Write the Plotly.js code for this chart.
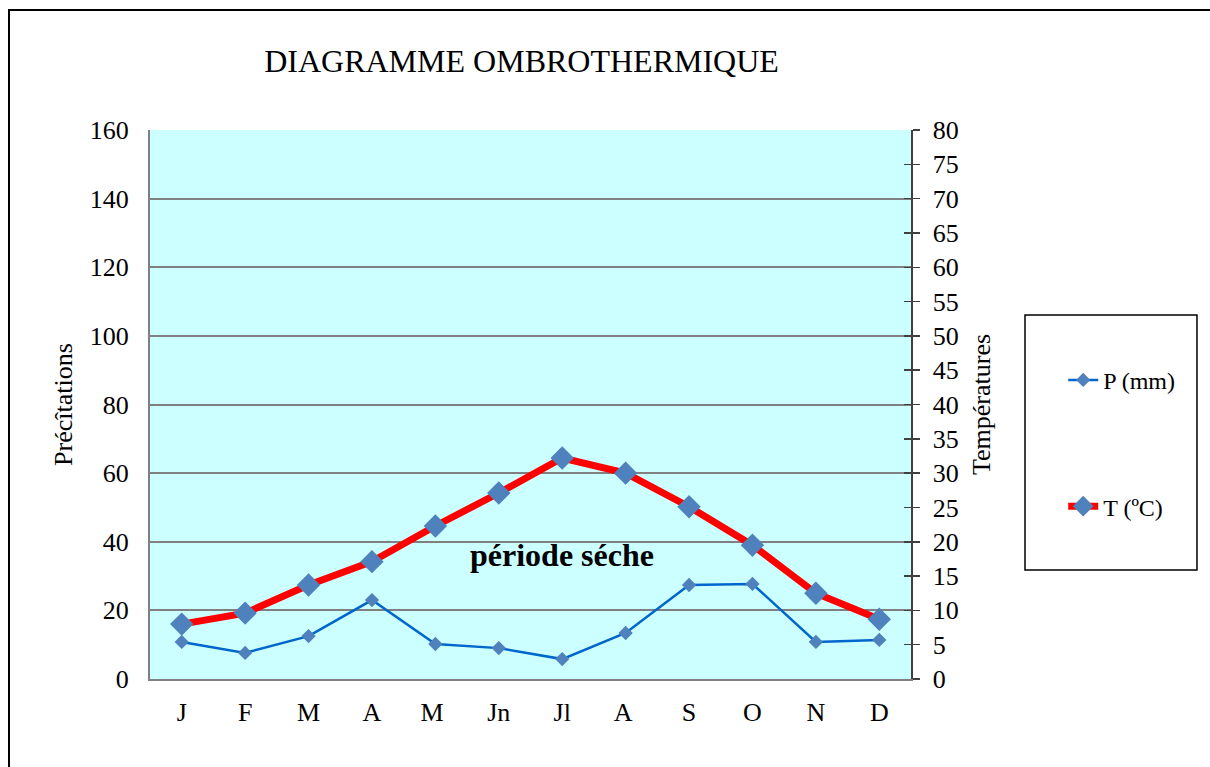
<!DOCTYPE html>
<html>
<head>
<meta charset="utf-8">
<script src="https://cdn.plot.ly/plotly-3.0.1.min.js"></script>
<style>
  html, body { margin: 0; padding: 0; background: #fff; overflow: hidden; }
  #chart { width: 1210px; height: 767px; }
  #frame { position: absolute; left: 8px; top: 9px; width: 1400px; height: 1000px;
           border: 2px solid #000; pointer-events: none; }
</style>
</head>
<body>
<div id="chart"></div>
<div id="frame"></div>
<script>
const months = ["J", "F", "M", "A", "M ", "Jn", "Jl", "A ", "S", "O", "N", "D"];
const precip = [10.8, 7.6, 12.5, 23.0, 10.2, 9.0, 5.8, 13.4, 27.4, 27.7, 10.8, 11.4];
const temp = [8.0, 9.6, 13.7, 17.1, 22.3, 27.1, 32.2, 30.0, 25.1, 19.5, 12.5, 8.7];
const leftTicks = [0, 20, 40, 60, 80, 100, 120, 140, 160];
const rightTicks = [0, 5, 10, 15, 20, 25, 30, 35, 40, 45, 50, 55, 60, 65, 70, 75, 80];

const FONT = "'Liberation Serif', 'Times New Roman', serif";
const markerBlue = "#4F81BD";

const traces = [
  {
    x: months, y: precip, name: "P (mm)", type: "scatter", mode: "lines+markers",
    yaxis: "y", legendgroup: "p",
    line: { color: "#0066CC", width: 2.5 },
    marker: { symbol: "diamond", size: 11, color: markerBlue }
  },
  {
    x: months, y: temp, name: "T (ºC)", type: "scatter", mode: "lines+markers",
    yaxis: "y2", legendgroup: "t",
    line: { color: "#FF0000", width: 7 },
    marker: { symbol: "diamond", size: 18, color: markerBlue }
  },
  {
    x: months, y: temp, yaxis: "y3", type: "scatter", mode: "none",
    showlegend: false, hoverinfo: "skip"
  }
];

const layout = {
  width: 1210, height: 767,
  margin: { l: 150, r: 299, t: 130, b: 88 },
  paper_bgcolor: "#FFFFFF",
  plot_bgcolor: "#CCFFFF",
  font: { family: FONT, size: 26, color: "#000" },
  title: {
    text: "DIAGRAMME OMBROTHERMIQUE",
    font: { family: FONT, size: 32, color: "#000" },
    xref: "container", yref: "container",
    x: 0.431, xanchor: "center", y: 0.921, yanchor: "middle"
  },
  xaxis: {
    type: "category", range: [-0.5, 11.5],
    showgrid: false, zeroline: false,
    showline: true, linecolor: "#808080", linewidth: 2,
    ticks: "", ticklabelstandoff: 9,
    tickfont: { family: FONT, size: 26 },
    fixedrange: true
  },
  yaxis: {
    range: [0, 160], tickvals: leftTicks,
    showgrid: true, gridcolor: "#808080", gridwidth: 2,
    zeroline: false, showline: true, linecolor: "#808080", linewidth: 2,
    ticks: "", ticklabelstandoff: 14,
    tickfont: { family: FONT, size: 26 },
    title: { text: "Précîtations", font: { family: FONT, size: 26 }, standoff: 10 }
  },
  yaxis2: {
    range: [0, 80], tickvals: rightTicks,
    overlaying: "y", side: "right", anchor: "x",
    showgrid: false, zeroline: false,
    showline: true, linecolor: "#404040", linewidth: 1.5,
    ticks: "outside", ticklen: 7, tickcolor: "#404040", tickwidth: 1.5,
    ticklabelstandoff: 8,
    tickfont: { family: FONT, size: 26 },
    title: { text: "Températures", font: { family: FONT, size: 26 }, standoff: 14 }
  },
  yaxis3: {
    range: [0, 80], tickvals: rightTicks,
    overlaying: "y", side: "right", anchor: "x",
    showgrid: false, zeroline: false, showline: false,
    ticks: "inside", ticklen: 7, tickcolor: "#404040", tickwidth: 1.5,
    showticklabels: false
  },
  showlegend: true,
  legend: {
    x: 1.2, xanchor: "left", y: 0.585, yanchor: "top",
    bgcolor: "rgba(0,0,0,0)", borderwidth: 0,
    font: { family: FONT, size: 24, color: "#000" },
    tracegroupgap: 92, traceorder: "grouped"
  },
  shapes: [
    {
      type: "rect", xref: "paper", yref: "paper",
      x0: 1.1498, x1: 1.3758, y0: 0.1985, y1: 0.663,
      line: { color: "#000", width: 1.5 }, fillcolor: "rgba(0,0,0,0)"
    }
  ],
  annotations: [
    {
      text: "<b>période séche</b>", x: "Jl", y: 36, xref: "x", yref: "y",
      showarrow: false, font: { family: FONT, size: 32, color: "#000" }
    }
  ]
};

Plotly.newPlot("chart", traces, layout, { displayModeBar: false, staticPlot: true });
</script>
</body>
</html>
